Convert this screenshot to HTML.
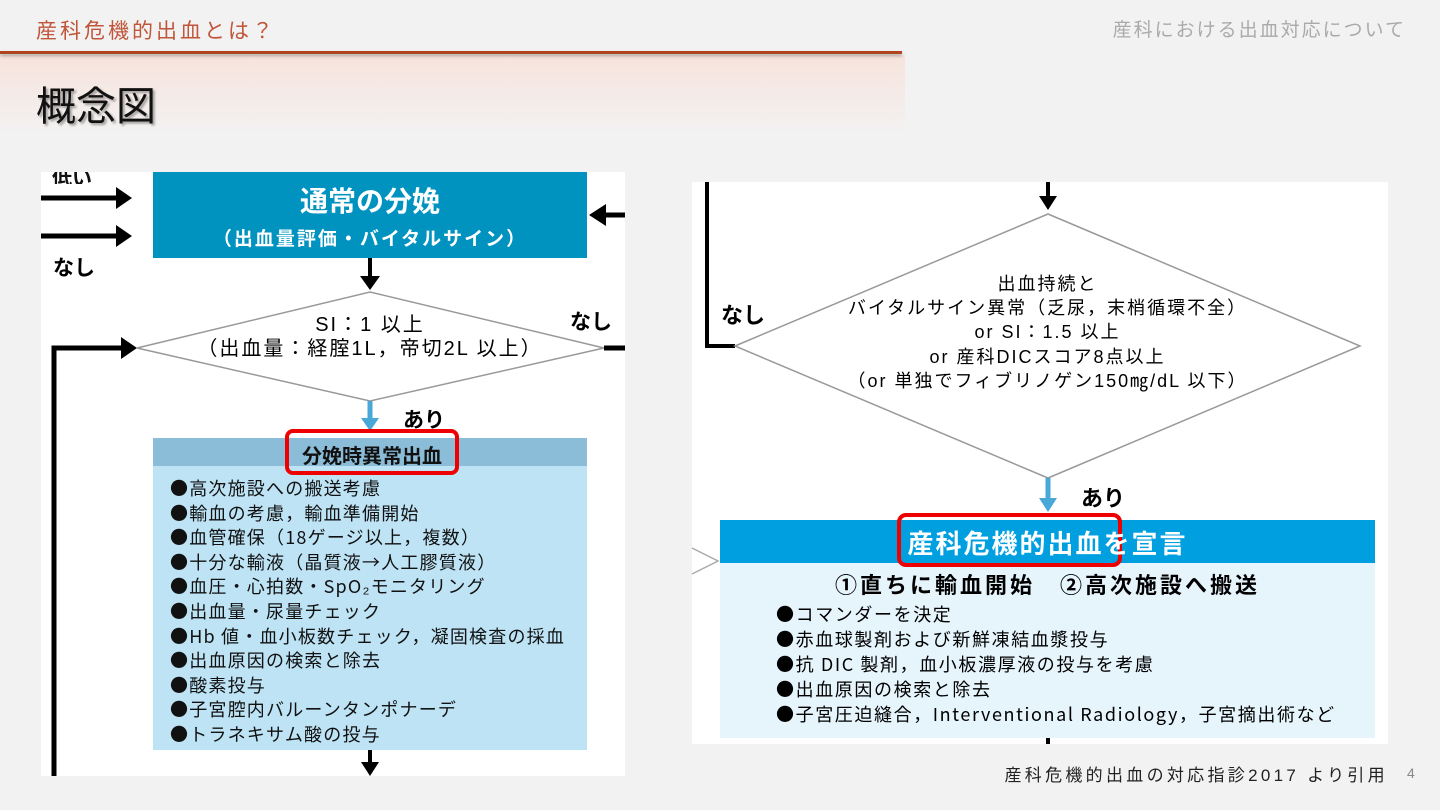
<!DOCTYPE html>
<html><head><meta charset="utf-8"><style>
body{margin:0;width:1440px;height:810px;background:#f2f2f2;position:relative;overflow:hidden;font-family:"Liberation Sans","Noto Sans CJK JP",sans-serif}
.a{position:absolute;white-space:nowrap}
.b{font-family:"Noto Sans CJK JP",sans-serif}
</style></head><body>
<div class="a" style="left:0;top:55px;width:905px;height:80px;background:linear-gradient(#f7e3dc,#f2f2f2)"></div>
<div class="a" style="left:0;top:51px;width:902px;height:3px;background:#b2431f;box-shadow:0 2px 3px rgba(0,0,0,.3)"></div>
<div class="a" style="left:36px;top:15px;font-size:21px;letter-spacing:3px;color:#c0553a">産科危機的出血とは？</div>
<div class="a" style="right:34px;top:15px;font-size:19px;letter-spacing:2px;color:#aaa">産科における出血対応について</div>
<div class="a" style="left:36px;top:74px;font-size:40px;color:#111;text-shadow:2px 2px 2px rgba(0,0,0,.35)">概念図</div>

<svg class="a" style="left:0;top:0" width="1440" height="810">
<rect x="41" y="172" width="584" height="604" fill="#fff"/>
<rect x="153" y="172" width="434" height="86" fill="#0093c0"/>
<path d="M41,198H118M41,236H118M54,776V348H123" stroke="#000" stroke-width="5" fill="none"/>
<path d="M116,187L132,198L116,209zM116,225L132,236L116,247zM121,337L137,348L121,359z" fill="#000"/>
<path d="M625,215H605" stroke="#000" stroke-width="5"/><path d="M606,204L589,215L606,226z" fill="#000"/>
<path d="M370,258V278" stroke="#000" stroke-width="4"/><path d="M360,276L370,290L380,276z" fill="#000"/>
<polygon points="137,348 370,292 604,348 370,401" fill="#fff" stroke="#999" stroke-width="1.5"/>
<path d="M604,348H625" stroke="#000" stroke-width="5"/>
<path d="M370,401V420" stroke="#4aa8d8" stroke-width="5"/><path d="M361,418L370,431L379,418z" fill="#4aa8d8"/>
<rect x="153" y="438" width="434" height="28" fill="#8bbcd8"/>
<rect x="153" y="466" width="434" height="284" fill="#bde3f5"/>
<rect x="287" y="431" width="170" height="42" rx="6" fill="none" stroke="#e00" stroke-width="4"/>
<path d="M370,750V764" stroke="#000" stroke-width="4"/><path d="M361,762L370,776L379,762z" fill="#000"/>

<rect x="692" y="182" width="696" height="562" fill="#fff"/>
<path d="M707,182V346H735" stroke="#000" stroke-width="4" fill="none"/>
<path d="M1048,182V198" stroke="#000" stroke-width="4"/><path d="M1039,196L1048,210L1057,196z" fill="#000"/>
<polygon points="735,346 1048,214 1360,346 1048,478" fill="#fff" stroke="#999" stroke-width="1.5"/>
<path d="M1048,478V500" stroke="#4aa8d8" stroke-width="5"/><path d="M1039,498L1048,512L1057,498z" fill="#4aa8d8"/>
<rect x="720" y="520" width="655" height="43" fill="#009fe0"/>
<rect x="720" y="563" width="655" height="175" fill="#e6f4fc"/>
<path d="M692,548L718,561L692,574" stroke="#aaa" stroke-width="1.5" fill="none"/>
<rect x="899" y="515" width="221" height="50" rx="7" fill="none" stroke="#e00" stroke-width="4"/>
<path d="M1048,738V744" stroke="#000" stroke-width="4"/>
</svg>

<div class="a" style="left:52px;top:172px;font-size:20px;font-weight:bold;color:#111;height:12px;overflow:hidden"><span style="position:relative;top:-10px">低い</span></div>
<div class="a" style="left:53px;top:252px;font-size:21px;font-weight:bold">なし</div>
<div class="a" style="left:153px;width:434px;top:180px;text-align:center;font-size:28px;font-weight:bold;color:#fff">通常の分娩</div>
<div class="a" style="left:153px;width:434px;top:224px;text-align:center;font-size:19px;letter-spacing:2px;font-weight:bold;color:#fff">（出血量評価・バイタルサイン）</div>
<div class="a" style="left:153px;width:434px;top:313px;text-align:center;font-size:20px;letter-spacing:2px;line-height:24px">SI：1 以上<br>（出血量：経腟1L，帝切2L 以上）</div>
<div class="a" style="left:570px;top:306px;font-size:21px;font-weight:bold">なし</div>
<div class="a" style="left:403px;top:404px;font-size:21px;font-weight:bold">あり</div>
<div class="a" style="left:287px;width:170px;top:440px;text-align:center;font-size:20px;font-weight:bold;color:#111">分娩時異常出血</div>
<div class="a b" style="left:170px;top:476px;font-size:18px;letter-spacing:1.2px;line-height:24.6px;color:#111">●高次施設への搬送考慮<br>●輸血の考慮，輸血準備開始<br>●血管確保（18ゲージ以上，複数）<br>●十分な輸液（晶質液→人工膠質液）<br>●血圧・心拍数・SpO₂モニタリング<br>●出血量・尿量チェック<br>●Hb 値・血小板数チェック，凝固検査の採血<br>●出血原因の検索と除去<br>●酸素投与<br>●子宮腔内バルーンタンポナーデ<br>●トラネキサム酸の投与</div>

<div class="a" style="left:721px;top:298px;font-size:22px;font-weight:bold">なし</div>
<div class="a" style="left:735px;width:625px;top:272px;text-align:center;font-size:18px;letter-spacing:2px;line-height:24.2px">出血持続と<br>バイタルサイン異常（乏尿，末梢循環不全）<br>or SI：1.5 以上<br>or 産科DICスコア8点以上<br>（or 単独でフィブリノゲン150㎎/dL 以下）</div>
<div class="a" style="left:1081px;top:481px;font-size:22px;font-weight:bold">あり</div>
<div class="a" style="left:720px;width:655px;top:524px;text-align:center;font-size:26px;letter-spacing:2px;font-weight:bold;color:#fff">産科危機的出血を宣言</div>
<div class="a" style="left:720px;width:655px;top:568px;text-align:center;font-size:22px;letter-spacing:3px;font-weight:bold">①直ちに輸血開始　②高次施設へ搬送</div>
<div class="a b" style="left:776px;top:602px;font-size:18px;letter-spacing:1.6px;line-height:25px">●コマンダーを決定<br>●赤血球製剤および新鮮凍結血漿投与<br>●抗 DIC 製剤，血小板濃厚液の投与を考慮<br>●出血原因の検索と除去<br>●子宮圧迫縫合，Interventional Radiology，子宮摘出術など</div>

<div class="a" style="right:52px;top:761px;font-size:17px;letter-spacing:3.3px;color:#222">産科危機的出血の対応指診2017 より引用</div>
<div class="a" style="left:1407px;top:765px;font-size:14px;color:#888">4</div>
</body></html>
